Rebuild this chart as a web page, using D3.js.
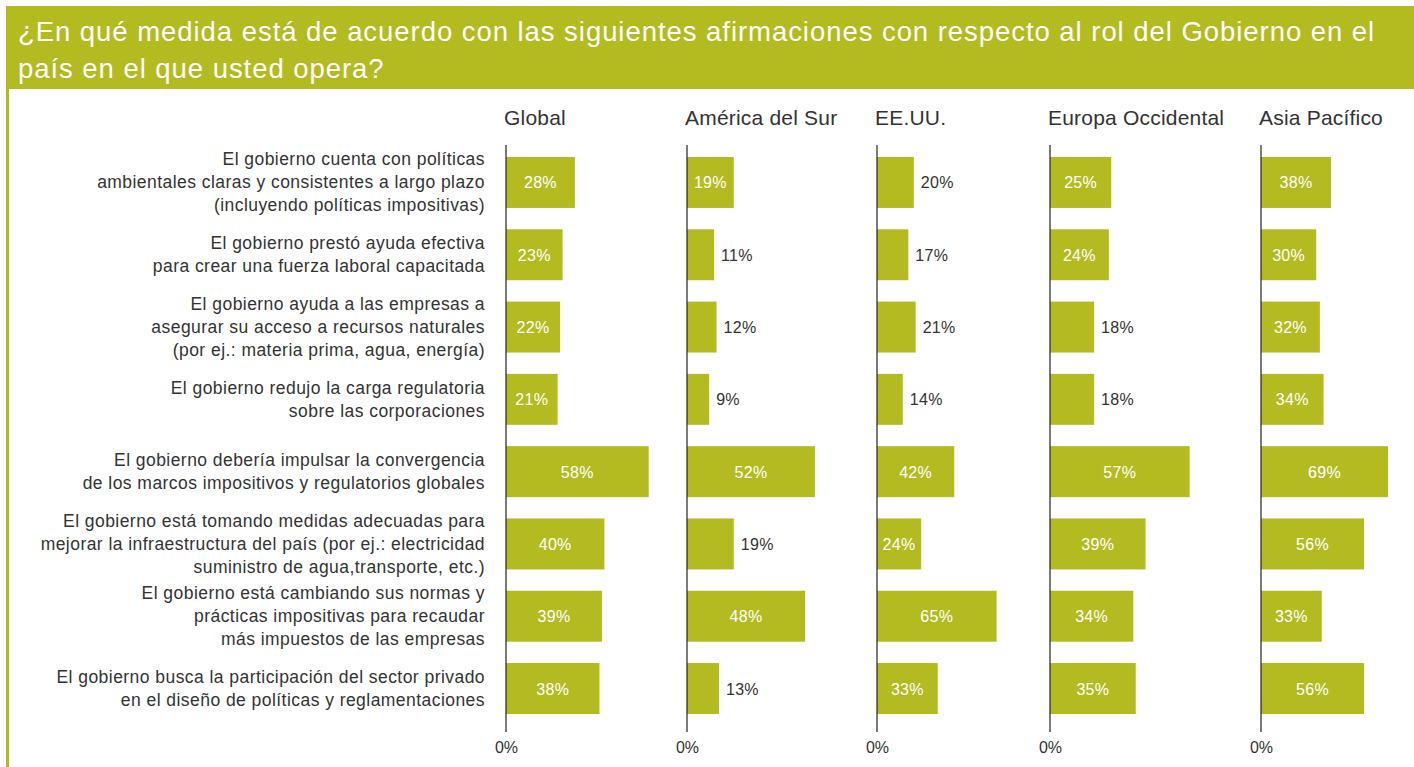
<!DOCTYPE html>
<html lang="es">
  <head>
    <meta charset="UTF-8" />
    <title>Rol del Gobierno</title>
    <script src="https://d3js.org/d3.v7.min.js"></script>
    <style>
      body {
        margin: 0;
        background: #fff;
        font-family: "Liberation Sans", Arial, Helvetica, sans-serif;
      }
      svg {
        display: block;
      }
    </style>
  </head>
  <body>
    <svg width="1414" height="767"></svg>

    <script>
      const title = [
        "¿En qué medida está de acuerdo con las siguientes afirmaciones con respecto al rol del Gobierno en el",
        "país en el que usted opera?",
      ];

      const categories = [
        ["El gobierno cuenta con políticas", "ambientales claras y consistentes a largo plazo", "(incluyendo políticas impositivas)"],
        ["El gobierno prestó ayuda efectiva", "para crear una fuerza laboral capacitada"],
        ["El gobierno ayuda a las empresas a", "asegurar su acceso a recursos naturales", "(por ej.: materia prima, agua, energía)"],
        ["El gobierno redujo la carga regulatoria", "sobre las corporaciones"],
        ["El gobierno debería impulsar la convergencia", "de los marcos impositivos y regulatorios globales"],
        ["El gobierno está tomando medidas adecuadas para", "mejorar la infraestructura del país (por ej.: electricidad", "suministro de agua,transporte, etc.)"],
        ["El gobierno está cambiando sus normas y", "prácticas impositivas para recaudar", "más impuestos de las empresas"],
        ["El gobierno busca la participación del sector privado", "en el diseño de políticas y reglamentaciones"],
      ];

      const regions = ["Global", "América del Sur", "EE.UU.", "Europa Occidental", "Asia Pacífico"];

      const globalValues = [28, 23, 22, 21, 58, 40, 39, 38];
      const surValues = [19, 11, 12, 9, 52, 19, 48, 13];
      const eeuuValues = [20, 17, 21, 14, 42, 24, 65, 33];
      const europaValues = [25, 24, 18, 18, 57, 39, 34, 35];
      const asiaValues = [38, 30, 32, 34, 69, 56, 33, 56];

      // rows whose value label sits to the right of the bar
      const globalOutside = [];
      const surOutside = [1, 2, 3, 5, 7];
      const eeuuOutside = [0, 1, 2, 3];
      const europaOutside = [2, 3];
      const asiaOutside = [];

      const tickLabels = ["0%"];

      const series = [globalValues, surValues, eeuuValues, europaValues, asiaValues];
      const outside = [globalOutside, surOutside, eeuuOutside, europaOutside, asiaOutside];

      // panel layout: left edge of the axis and pixel length of 100%
      const panelX = [506, 687, 877, 1050, 1261];
      const panelSpan = [246, 246, 184, 245, 184];

      const green = "#b3bb21";
      const textColor = "#333";

      const svg = d3.select("svg");

      // header band
      svg.append("rect").attr("x", 6).attr("y", 6).attr("width", 1408).attr("height", 83).attr("fill", green);
      svg.append("rect").attr("x", 6).attr("y", 89).attr("width", 3).attr("height", 678).attr("fill", green);

      svg
        .append("g")
        .selectAll("text")
        .data(title)
        .join("text")
        .attr("x", 18)
        .attr("y", (d, i) => 41 + i * 37)
        .attr("fill", "#fff")
        .attr("font-size", 27.5)
        .attr("letter-spacing", 0.95)
        .text((d) => d);

      const y = d3.scaleBand().domain(d3.range(categories.length)).range([157, 714]).paddingInner(0.295).paddingOuter(0);

      // category labels
      const lineH = 23;
      const cat = svg
        .append("g")
        .selectAll("text")
        .data(categories)
        .join("text")
        .attr("text-anchor", "end")
        .attr("fill", textColor)
        .attr("font-size", 17.5)
        .attr("letter-spacing", 0.45);
      cat
        .selectAll("tspan")
        .data((d, i) => d.map((t, j) => ({t, j, n: d.length, i})))
        .join("tspan")
        .attr("x", 485)
        .attr("y", (d) => y(d.i) + y.bandwidth() / 2 + 6 + (d.j - (d.n - 1) / 2) * lineH)
        .text((d) => d.t);

      regions.forEach((name, p) => {
        const x = d3.scaleLinear().domain([0, 100]).range([0, panelSpan[p]]);
        const g = svg.append("g").attr("transform", `translate(${panelX[p]},0)`);
        const vals = series[p];

        g.append("text")
          .attr("x", -2)
          .attr("y", 125)
          .attr("fill", textColor)
          .attr("font-size", 21)
          .attr("letter-spacing", 0.2)
          .text(name);

        g.selectAll("rect")
          .data(vals)
          .join("rect")
          .attr("x", x(0))
          .attr("y", (d, i) => y(i))
          .attr("width", (d) => x(d) - x(0))
          .attr("height", y.bandwidth())
          .attr("fill", green);

        g.selectAll("text.val")
          .data(vals)
          .join("text")
          .attr("class", "val")
          .attr("font-size", 16)
          .attr("letter-spacing", 0.3)
          .attr("y", (d, i) => y(i) + y.bandwidth() / 2 + 6)
          .each(function (d, i) {
            const out = outside[p].includes(i);
            d3.select(this)
              .attr("x", out ? x(d) + 7 : x(d) / 2)
              .attr("text-anchor", out ? "start" : "middle")
              .attr("fill", out ? textColor : "#fff");
          })
          .text((d) => d + "%");

        // axis: vertical line plus the 0% tick label
        g.append("line")
          .attr("x1", x(0))
          .attr("x2", x(0))
          .attr("y1", 145)
          .attr("y2", 732)
          .attr("stroke", "#222")
          .attr("stroke-width", 1.2);

        const axis = g
          .append("g")
          .attr("transform", "translate(0,737)")
          .call(d3.axisBottom(x).tickValues([0]).tickFormat((d, i) => tickLabels[i]).tickSize(0).tickPadding(0));
        axis.select(".domain").remove();
        axis
          .selectAll("text")
          .attr("font-size", 16)
          .attr("font-family", "Liberation Sans, Arial, sans-serif")
          .attr("fill", textColor)
          .attr("dy", "1em");
      });
    </script>
  </body>
</html>
